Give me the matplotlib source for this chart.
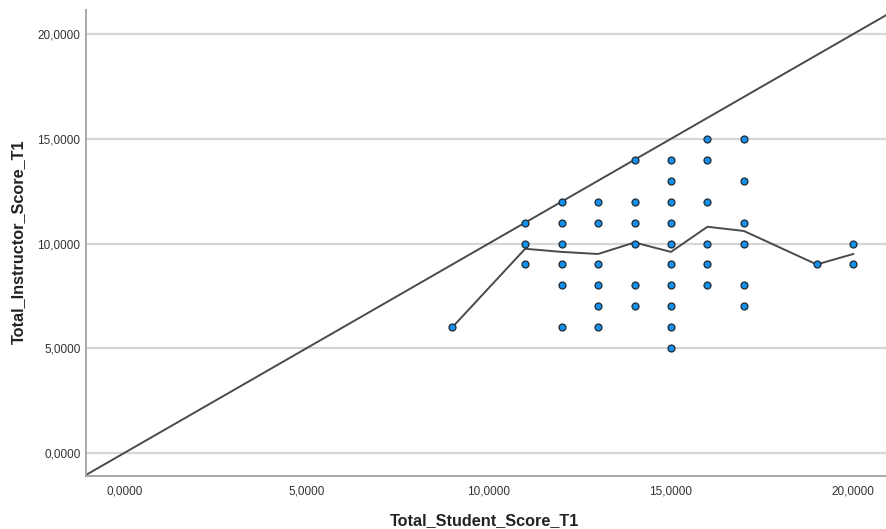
import matplotlib
matplotlib.use("Agg")
import matplotlib.pyplot as plt
from matplotlib.ticker import FuncFormatter

# student score (x) and instructor score (y)
student = [9,
           11, 11, 11,
           12, 12, 12, 12, 12, 12,
           13, 13, 13, 13, 13, 13,
           14, 14, 14, 14, 14, 14,
           15, 15, 15, 15, 15, 15, 15, 15, 15, 15,
           16, 16, 16, 16, 16, 16,
           17, 17, 17, 17, 17, 17,
           19,
           20, 20]
instructor = [6,
              11, 10, 9,
              12, 11, 10, 9, 8, 6,
              12, 11, 9, 8, 7, 6,
              14, 12, 11, 10, 8, 7,
              14, 13, 12, 11, 10, 9, 8, 7, 6, 5,
              15, 14, 12, 10, 9, 8,
              15, 13, 11, 10, 8, 7,
              9,
              10, 9]

# fitted line (loess-like), read at each student score
fit_x = [9, 11, 12, 13, 14, 15, 16, 17, 19, 20]
fit_y = [6.0, 9.75, 9.6, 9.5, 10.05, 9.6, 10.8, 10.6, 9.0, 9.5]

ticks = [0, 5, 10, 15, 20]

plt.rcParams['font.family'] = ['Liberation Sans', 'DejaVu Sans']

fig = plt.figure(figsize=(8.86, 5.29), dpi=100)
ax = fig.add_axes([86/886, 1 - 476/529, 800/886, 466/529])

ax.set_xlim(-1.05, 20.9)
ax.set_ylim(-1.1, 21.15)

# reference line y = x
ax.plot([-1.1, 21.2], [-1.1, 21.2], color="#4a4a4a", lw=1.4, zorder=2)
ax.plot(fit_x, fit_y, color="#4a4a4a", lw=1.4, zorder=2)
ax.scatter(student, instructor, s=25, color="#1590ea", edgecolor="#1f2a33",
           linewidth=0.9, zorder=3)

ax.set_xticks(ticks)
ax.set_yticks(ticks)
fmt = FuncFormatter(lambda v, p: f"{v:.4f}".replace(".", ","))
ax.xaxis.set_major_formatter(fmt)
ax.yaxis.set_major_formatter(fmt)
ax.tick_params(length=0, labelsize=8.5, labelcolor="#333333")
ax.tick_params(axis="x", pad=7)
ax.tick_params(axis="y", pad=4)
ax.yaxis.grid(True, color="#d6d6d6", lw=1.6)
ax.set_axisbelow(True)

for s in ["top", "right"]:
    ax.spines[s].set_visible(False)
for s in ["left", "bottom"]:
    ax.spines[s].set_color("#a8a8a8")
    ax.spines[s].set_linewidth(1.4)

fig.text(485/886, 1 - 525/529, "Total_Student_Score_T1", fontsize=11.7,
         fontweight="bold", color="#222222", ha="center", va="baseline")
fig.text(18/886, 1 - 242/529, "Total_Instructor_Score_T1", fontsize=11.7,
         fontweight="bold", color="#222222", ha="center", va="center",
         rotation=90)

fig.savefig("out.png", dpi=100)
